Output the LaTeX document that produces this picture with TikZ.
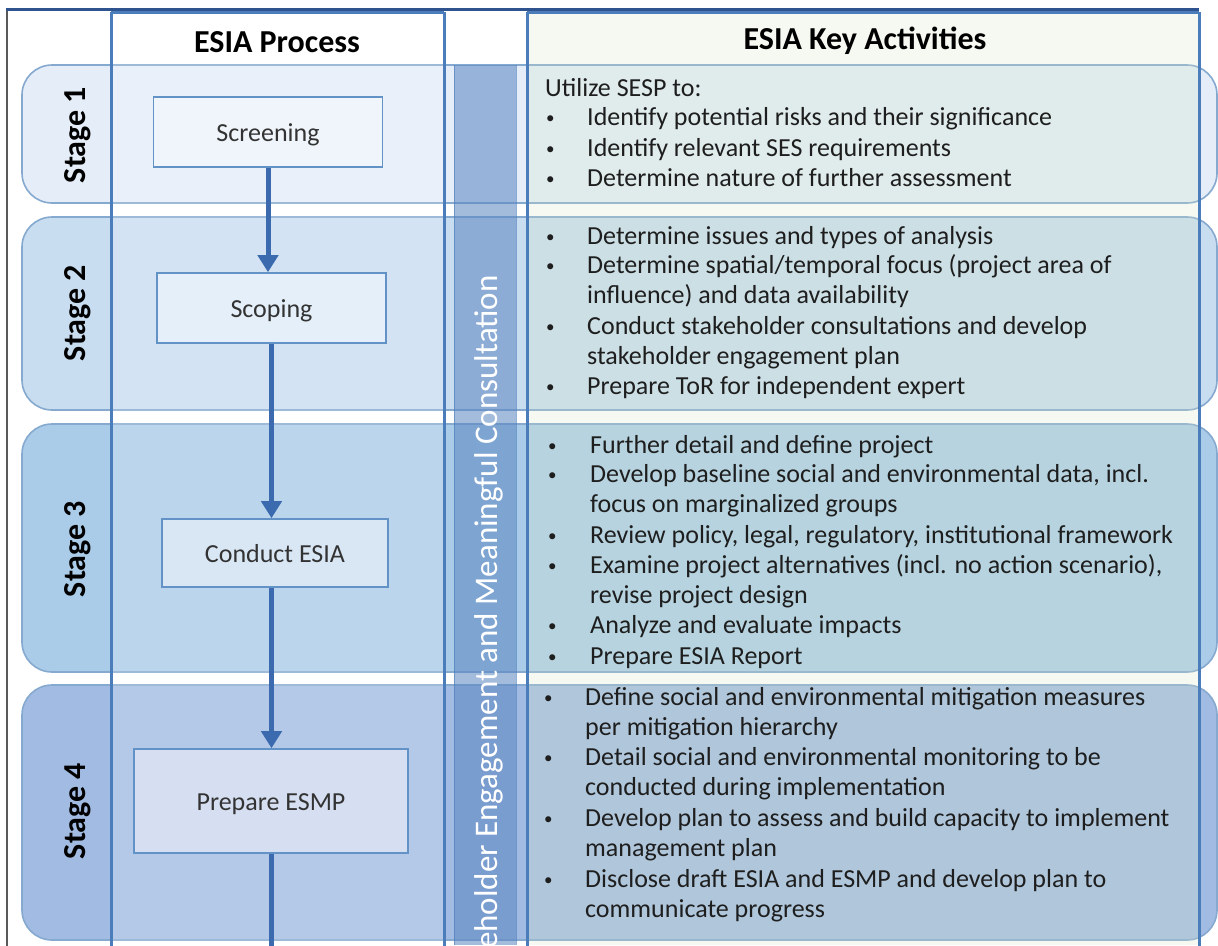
\documentclass[tikz,border=0pt]{standalone}
\usepackage{fontspec}
\setmainfont{Carlito}
\usetikzlibrary{arrows.meta}
\definecolor{colline}{HTML}{4A7DBA}
\definecolor{rowline}{HTML}{86A9D0}
\definecolor{arrc}{HTML}{3C6AAE}
\definecolor{boxline}{HTML}{6393C6}
\definecolor{sA}{HTML}{E4EDF8}
\definecolor{sB}{HTML}{C9DDF0}
\definecolor{sC}{HTML}{ABCCE8}
\definecolor{sD}{HTML}{A2BBE2}
\definecolor{bA}{HTML}{F0F5FB}
\definecolor{bB}{HTML}{E4EFF9}
\definecolor{bC}{HTML}{D9E7F5}
\definecolor{bD}{HTML}{D5DFF1}
\definecolor{keyg}{HTML}{D8E8C8}
\definecolor{bandc}{HTML}{5A85C0}
\definecolor{topc}{HTML}{2E538F}
\definecolor{txt}{HTML}{1E1E1E}
\definecolor{boxtxt}{HTML}{333333}
\newcommand\kl[4]{\node[kt] (#1) at (#2,#3) {#4};}
\newcommand\kb[5]{\node[kt, font=\fontsize{17}{20}\selectfont] (#1b) at (#2,#4-2) {•};\node[kt] (#1) at (#3,#4) {#5};}
\newcommand\bt[1]{\raisebox{-9pt}[0pt][0pt]{#1}}
\begin{document}
\begin{tikzpicture}[x=1pt,y=-1pt,
  rowbox/.style={draw=rowline, line width=1.6pt, rounded corners=30pt},
  colbox/.style={draw=colline, line width=3pt},
  pbox/.style={draw=boxline, line width=1.6pt, font=\fontsize{26}{30}\selectfont, text=boxtxt, inner sep=0pt},
  stagelbl/.style={rotate=90, font=\bfseries\fontsize{32}{36}\selectfont, text=black, inner sep=0pt},
  hdr/.style={font=\bfseries\fontsize{32}{36}\selectfont, text=black, inner sep=0pt},
  kt/.style={anchor=base west, inner sep=0pt, font=\fontsize{26}{30}\selectfont, text=txt},
  arr/.style={draw=arrc, line width=5pt, -{Triangle[width=20pt,length=17pt]}},
  plainline/.style={draw=arrc, line width=5pt}]
\useasboundingbox (0,0) rectangle (1218,945);
\fill[white] (0,0) rectangle (1218,945);
% stage rows
\draw[rowbox, fill=sA] (22,65) rectangle (1217,203);
\draw[rowbox, fill=sB] (22,217) rectangle (1217,410);
\draw[rowbox, fill=sC] (22,424) rectangle (1217,672);
\draw[rowbox, fill=sD] (22,685) rectangle (1217,940);
% column overlays
\fill[white, opacity=0.2] (110,12) rectangle (445,945);
\fill[keyg, opacity=0.25] (528,12) rectangle (1200,945);
% band
\fill[bandc, opacity=0.55] (454,65) rectangle (516,945);
\draw[colline, line width=1pt, opacity=0.6] (454,65) -- (454,945) (516,65) -- (516,945);
\begin{scope}
\clip (454,65) rectangle (516,945);
\node[rotate=90, anchor=east, inner sep=0pt, text=white, font=\fontsize{33}{38}\selectfont] (band) at (489,275) {Stakeholder Engagement and Meaningful Consultation};
\end{scope}
% columns
\draw[colbox] (111,12) -- (111,946) (444,12) -- (444,946);
\draw[colbox] (527,12) -- (527,946) (1199,12) -- (1199,946);
\draw[colbox] (111,12) -- (444,12) (527,12) -- (1199,12);
% frame
\draw[gray!70!black, line width=1.2pt] (7,10) -- (7,946);
\draw[topc, line width=3pt] (6,9) -- (1199,9);
% headers
\node[hdr] (h1) at (277,42) {ESIA Process};
\node[hdr] (h2) at (865,41) {ESIA Key Activities};
% stage labels
\node[stagelbl] (st1) at (78,135) {Stage 1};
\node[stagelbl] (st2) at (78,313) {Stage 2};
\node[stagelbl] (st3) at (78,549) {Stage 3};
\node[stagelbl] (st4) at (78,811) {Stage 4};
% process boxes
\node[pbox, fill=bA, minimum width=229pt, minimum height=70pt] (scr) at (268,132) {\bt{Screening}};
\node[pbox, fill=bB, minimum width=229pt, minimum height=70pt] (scp) at (271.5,308) {\bt{Scoping}};
\node[pbox, fill=bC, minimum width=226pt, minimum height=68pt] (ces) at (275,553) {\bt{Conduct ESIA}};
\node[pbox, fill=bD, minimum width=274pt, minimum height=104pt] (esmp) at (271,801) {\bt{Prepare ESMP}};
\coordinate (bot) at (272,950);
\draw[arr] (scr.south) -- (scr.south |- scp.north);
\draw[arr] (scp.south) -- (scp.south |- ces.north);
\draw[arr] (scp.south |- ces.south) -- (scp.south |- esmp.north);
\draw[plainline] (scp.south |- esmp.south) -- (scp.south |- bot);
% key activities
\kl{a0}{545}{96}{Utilize SESP to:}
\kb{a1}{546}{587}{125}{Identify potential risks and their significance}
\kb{a2}{546}{587}{156}{Identify relevant SES requirements}
\kb{a3}{546}{587}{186}{Determine nature of further assessment}
\kb{b1}{546}{587}{244}{Determine issues and types of analysis}
\kb{b2}{546}{587}{273}{Determine spatial/temporal focus (project area of}
\kl{b2x}{587}{303}{influence) and data availability}
\kb{b3}{546}{587}{334}{Conduct stakeholder consultations and develop}
\kl{b3x}{587}{364}{stakeholder engagement plan}
\kb{b4}{546}{587}{394}{Prepare ToR for independent expert}
\kb{c1}{548}{590}{453}{Further detail and define project}
\kb{c2}{548}{590}{482}{Develop baseline social and environmental data, incl.}
\kl{c2x}{590}{512}{focus on marginalized groups}
\kb{c3}{548}{590}{543}{Review policy, legal, regulatory, institutional framework}
\kb{c4}{548}{590}{573}{Examine project alternatives (incl. no action scenario),}
\kl{c4x}{590}{603}{revise project design}
\kb{c5}{548}{590}{633}{Analyze and evaluate impacts}
\kb{c6}{548}{590}{664}{Prepare ESIA Report}
\kb{d1}{544}{585}{705}{Define social and environmental mitigation measures}
\kl{d1x}{585}{735}{per mitigation hierarchy}
\kb{d2}{544}{585}{765}{Detail social and environmental monitoring to be}
\kl{d2x}{585}{795}{conducted during implementation}
\kb{d3}{544}{585}{826}{Develop plan to assess and build capacity to implement}
\kl{d3x}{585}{856}{management plan}
\kb{d4}{544}{585}{887}{Disclose draft ESIA and ESMP and develop plan to}
\kl{d4x}{585}{917}{communicate progress}
\end{tikzpicture}
\end{document}
